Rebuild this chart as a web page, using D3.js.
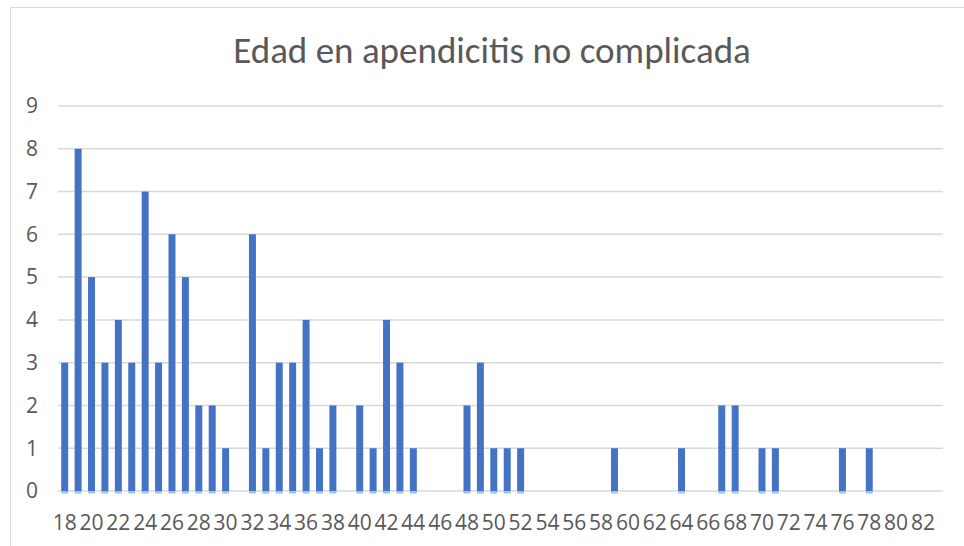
<html>
<head>
<script src="https://cdn.jsdelivr.net/npm/d3@7"></script>
<style>
  body { margin: 0; background: #fff; }
  svg text { font-family: Calibri, Carlito, "Open Sans", sans-serif; fill: #595959; }
  svg text.tick { font-family: "Open Sans", sans-serif; font-size: 21px; }
</style>
</head>
<body>
<svg id="chart" width="964" height="546"></svg>
<script>
// ages 18..83, counts per age
var ages = d3.range(18, 84);
var counts = [3, 8, 5, 3, 4, 3, 7, 3, 6, 5, 2, 2, 1, 0, 6, 1, 3, 3, 4, 1, 2, 0,
  2, 1, 4, 3, 1, 0, 0, 0, 2, 3, 1, 1, 1, 0, 0, 0, 0, 0, 0, 1, 0, 0, 0, 0, 1,
  0, 0, 2, 2, 0, 1, 1, 0, 0, 0, 0, 1, 0, 1, 0, 0, 0, 0, 0];
var yTicks = [0, 1, 2, 3, 4, 5, 6, 7, 8, 9];
var title = "Edad en apendicitis no complicada";

var data = ages.map(function (a, i) { return { age: a, n: counts[i] }; });

var plotLeft = 58, plotRight = 943, plotTop = 106, plotBottom = 491;

var svg = d3.select("#chart");

svg.append("rect")
  .attr("x", 10.5).attr("y", 7.5)
  .attr("width", 970).attr("height", 560)
  .attr("fill", "none").attr("stroke", "#d9d9d9").attr("stroke-width", 1);

var x = d3.scaleBand().domain(ages).range([plotLeft, plotRight]).paddingInner(0.48).paddingOuter(0.24);
var y = d3.scaleLinear().domain([0, 9]).range([plotBottom, plotTop]);

// gridlines
svg.append("g").selectAll("line")
  .data(yTicks).enter().append("line")
  .attr("x1", plotLeft).attr("x2", plotRight)
  .attr("y1", function (d) { return y(d); })
  .attr("y2", function (d) { return y(d); })
  .attr("stroke", "#d9d9d9").attr("stroke-width", 1.5);

// y labels
svg.append("g").selectAll("text")
  .data(yTicks).enter().append("text")
  .attr("class", "tick")
  .attr("x", 38)
  .attr("y", function (d) { return y(d); })
  .attr("dy", "0.35em")
  .attr("text-anchor", "end")
  .text(function (d) { return d; });

// bars
var bars = data.filter(function (d) { return d.n > 0; });
svg.append("g").selectAll("rect.base")
  .data(bars).enter().append("rect")
  .attr("class", "base")
  .attr("x", function (d) { return x(d.age); })
  .attr("y", y(0))
  .attr("width", x.bandwidth())
  .attr("height", 2.5)
  .attr("fill", "#9dc3e6");
svg.append("g").selectAll("rect.bar")
  .data(bars).enter().append("rect")
  .attr("class", "bar")
  .attr("x", function (d) { return x(d.age); })
  .attr("y", function (d) { return y(d.n); })
  .attr("width", x.bandwidth())
  .attr("height", function (d) { return y(0) - y(d.n); })
  .attr("fill", "#4472c4");

// x labels, every other age
svg.append("g").selectAll("text")
  .data(ages.filter(function (a) { return a % 2 === 0; }))
  .enter().append("text")
  .attr("class", "tick")
  .attr("x", function (d) { return x(d) + x.bandwidth() / 2; })
  .attr("y", 530)
  .attr("text-anchor", "middle")
  .text(function (d) { return d; });

svg.append("text")
  .attr("x", 492).attr("y", 63)
  .attr("text-anchor", "middle")
  .style("font-size", "37px")
  .style("font-weight", "300")
  .text(title);
</script>
</body>
</html>
